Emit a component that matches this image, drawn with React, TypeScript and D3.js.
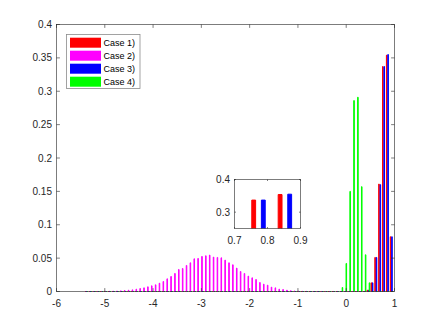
import React, { useEffect, useRef } from 'react';
import * as d3 from 'd3';

// histogram bin centres (shared by all four cases)
const binCenters = [
  -5.38, -5.30, -5.22, -5.14, -5.06, -4.98, -4.90, -4.82, -4.74, -4.66,
  -4.58, -4.50, -4.42, -4.34, -4.26, -4.18, -4.10, -4.02, -3.94, -3.86,
  -3.78, -3.70, -3.62, -3.54, -3.46, -3.38, -3.30, -3.22, -3.14, -3.06,
  -2.98, -2.90, -2.82, -2.74, -2.66, -2.58, -2.50, -2.42, -2.34, -2.26,
  -2.18, -2.10, -2.02, -1.94, -1.86, -1.78, -1.70, -1.62, -1.54, -1.46,
  -1.38, -1.30, -1.22, -1.14, -1.06, -0.98, -0.90, -0.82, -0.74, -0.66,
  -0.58, -0.50, -0.42, -0.34, -0.26, -0.18, -0.10, -0.02, 0.06, 0.14,
  0.22, 0.30, 0.38, 0.46, 0.54, 0.62, 0.70, 0.78, 0.86, 0.94,
];

const case1 = [
  0, 0, 0, 0, 0, 0, 0, 0, 0, 0,
  0, 0, 0, 0, 0, 0, 0, 0, 0, 0,
  0, 0, 0, 0, 0, 0, 0, 0, 0, 0,
  0, 0, 0, 0, 0, 0, 0, 0, 0, 0,
  0, 0, 0, 0, 0, 0, 0, 0, 0, 0,
  0, 0, 0, 0, 0, 0, 0, 0, 0, 0,
  0, 0, 0, 0, 0, 0, 0, 0, 0, 0,
  0, 0, 0, 0.002, 0.013, 0.051, 0.161, 0.337, 0.354, 0.082,
];

const case2 = [
  0, 0, 0, 0, 0, 0.0002, 0.0003, 0.0005, 0.0007, 0.001,
  0.0015, 0.002, 0.0025, 0.0035, 0.0045, 0.0055, 0.007, 0.0085, 0.010, 0.0125,
  0.015, 0.019, 0.0225, 0.027, 0.033, 0.0345, 0.039, 0.043, 0.049, 0.0495,
  0.0525, 0.0535, 0.0545, 0.0515, 0.051, 0.0505, 0.047, 0.043, 0.040, 0.035,
  0.030, 0.027, 0.023, 0.0205, 0.018, 0.0135, 0.011, 0.0095, 0.0065, 0.0055,
  0.0035, 0.003, 0.002, 0.0012, 0.0008, 0.0005, 0.0003, 0.0002, 0, 0,
  0, 0, 0, 0, 0, 0, 0, 0, 0, 0,
  0, 0, 0, 0, 0, 0, 0, 0, 0, 0,
];

const case3 = [
  0, 0, 0, 0, 0, 0, 0, 0, 0, 0,
  0, 0, 0, 0, 0, 0, 0, 0, 0, 0,
  0, 0, 0, 0, 0, 0, 0, 0, 0, 0,
  0, 0, 0, 0, 0, 0, 0, 0, 0, 0,
  0, 0, 0, 0, 0, 0, 0, 0, 0, 0,
  0, 0, 0, 0, 0, 0, 0, 0, 0, 0,
  0, 0, 0, 0, 0, 0, 0, 0, 0, 0,
  0, 0, 0, 0.002, 0.013, 0.051, 0.160, 0.337, 0.355, 0.082,
];

const case4 = [
  0, 0, 0, 0, 0, 0, 0, 0, 0, 0,
  0, 0, 0, 0, 0, 0, 0, 0, 0, 0,
  0, 0, 0, 0, 0, 0, 0, 0, 0, 0,
  0, 0, 0, 0, 0, 0, 0, 0, 0, 0,
  0, 0, 0, 0, 0, 0, 0, 0, 0, 0,
  0, 0, 0, 0, 0, 0, 0, 0, 0, 0,
  0, 0, 0, 0, 0, 0, 0.006, 0.042, 0.150, 0.286,
  0.291, 0.157, 0.055, 0.013, 0, 0, 0, 0, 0, 0,
];

const seriesNames = ['Case 1)', 'Case 2)', 'Case 3)', 'Case 4)'];
const seriesColors = ['#ff0000', '#ff00ff', '#0000ff', '#00ff00'];

const xTicks = [-6, -5, -4, -3, -2, -1, 0, 1];
const yTicks = [0, 0.05, 0.1, 0.15, 0.2, 0.25, 0.3, 0.35, 0.4];
const insetXTicks = [0.7, 0.8, 0.9];
const insetYTicks = [0.3, 0.4];

const W = 436;
const H = 327;
const FONT = '"Liberation Sans", Arial, Helvetica, sans-serif';
const AXIS = '#262626';

type Scale = d3.ScaleLinear<number, number>;

function drawBox(g: any, x: Scale, y: Scale, xt: number[], yt: number[], tick: number) {
  const [x0, x1] = x.range();
  const [y0, y1] = y.range();
  g.append('rect')
    .attr('x', x0).attr('y', y1)
    .attr('width', x1 - x0).attr('height', y0 - y1)
    .attr('fill', 'none')
    .attr('stroke', AXIS)
    .attr('stroke-width', 0.6);

  const ticks = g.append('g').attr('stroke', AXIS).attr('stroke-width', 0.6);
  xt.forEach(v => {
    ticks.append('line').attr('x1', x(v)).attr('x2', x(v)).attr('y1', y0).attr('y2', y0 - tick);
    ticks.append('line').attr('x1', x(v)).attr('x2', x(v)).attr('y1', y1).attr('y2', y1 + tick);
  });
  yt.forEach(v => {
    ticks.append('line').attr('y1', y(v)).attr('y2', y(v)).attr('x1', x0).attr('x2', x0 + tick);
    ticks.append('line').attr('y1', y(v)).attr('y2', y(v)).attr('x1', x1).attr('x2', x1 - tick);
  });

  g.append('g').selectAll('text').data(xt).enter().append('text')
    .attr('x', d => x(d))
    .attr('y', y0 + 15)
    .attr('text-anchor', 'middle')
    .attr('font-family', FONT)
    .attr('font-size', 10)
    .attr('fill', AXIS)
    .text(d => String(d));

  g.append('g').selectAll('text').data(yt).enter().append('text')
    .attr('x', x0 - 4.5)
    .attr('y', d => y(d) + 3.5)
    .attr('text-anchor', 'end')
    .attr('font-family', FONT)
    .attr('font-size', 10)
    .attr('fill', AXIS)
    .text(d => String(d));
}

function drawBars(g: any, x: Scale, y: Scale) {
  const series = [case1, case2, case3, case4];
  const binW = 0.08;
  const groupW = Math.min(0.8, series.length / (series.length + 1.5));
  const step = (groupW / series.length) * binW;
  const barW = 0.8 * step;

  series.forEach((vals, si) => {
    const off = (si - (series.length - 1) / 2) * step;
    g.append('g')
      .selectAll('path')
      .data(vals)
      .enter()
      .append('path')
      .attr('d', (v: number, i: number) => {
        const c = binCenters[i] + off;
        const xa = x(c - barW / 2);
        const xb = x(c + barW / 2);
        return `M${xa},${y(0)}V${y(v)}H${xb}V${y(0)}Z`;
      })
      .attr('fill', seriesColors[si])
      .attr('stroke', seriesColors[si])
      .attr('stroke-width', 1);
  });
}

export default function App() {
  const ref = useRef<SVGSVGElement>(null);

  useEffect(() => {
    const svg = d3.select(ref.current);
    svg.selectAll('*').remove();

    // main axes
    const x = d3.scaleLinear().domain([-6, 1]).range([56.5, 394.5]);
    const y = d3.scaleLinear().domain([0, 0.4]).range([291.5, 24.5]);

    const main = svg.append('g');
    main.append('rect').attr('x', 56.5).attr('y', 24.5).attr('width', 338).attr('height', 267).attr('fill', '#fff');
    drawBars(main.append('g'), x, y);
    drawBox(main, x, y, xTicks, yTicks, 3.4);

    // legend
    const leg = svg.append('g').attr('transform', 'translate(66.5,34.5)');
    leg.append('rect')
      .attr('width', 73.5).attr('height', 54)
      .attr('fill', '#fff')
      .attr('stroke', '#8c8c8c')
      .attr('stroke-width', 0.8);
    seriesNames.forEach((name, i) => {
      const cy = 8.2 + i * 13;
      leg.append('rect')
        .attr('x', 3.5).attr('y', cy - 5)
        .attr('width', 31).attr('height', 10)
        .attr('fill', seriesColors[i]);
      leg.append('text')
        .attr('x', 37).attr('y', cy + 3.2)
        .attr('font-family', FONT)
        .attr('font-size', 9)
        .attr('fill', '#000')
        .text(name);
    });

    // inset axes
    const ix = d3.scaleLinear().domain([0.7, 0.9]).range([234.5, 300.5]);
    const iy = d3.scaleLinear().domain([0.25, 0.4]).range([228.5, 179.5]);
    const inset = svg.append('g');
    inset.append('rect').attr('x', 234.5).attr('y', 179.5).attr('width', 66).attr('height', 49).attr('fill', '#fff');
    svg.append('clipPath').attr('id', 'insetClip')
      .append('rect').attr('x', 234.5).attr('y', 179.5).attr('width', 66).attr('height', 49);
    drawBars(inset.append('g').attr('clip-path', 'url(#insetClip)'), ix, iy);
    drawBox(inset, ix, iy, insetXTicks, insetYTicks, 1.5);
  }, []);

  return (
    <div style={{ position: 'fixed', left: 0, top: 0, background: '#fff' }}>
      <svg ref={ref} width={W} height={H} style={{ display: 'block' }} />
    </div>
  );
}
